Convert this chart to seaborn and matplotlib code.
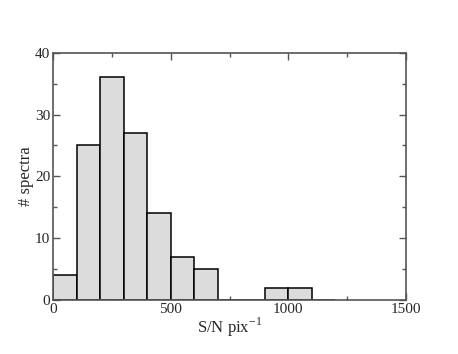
import numpy as np
import pandas as pd
import matplotlib
matplotlib.use("Agg")
import matplotlib.pyplot as plt
import seaborn as sns
from matplotlib.ticker import MultipleLocator

# Histogram data (bin width 100)
bin_edges = [0, 100, 200, 300, 400, 500, 600, 700, 800, 900, 1000, 1100, 1200]
counts = [4, 25, 36, 27, 14, 7, 5, 0, 0, 2, 2, 0]

centers = [(a + b) / 2 for a, b in zip(bin_edges[:-1], bin_edges[1:])]
df = pd.DataFrame({"sn": centers, "n": counts})

sns.set_style("ticks")
plt.rcParams['font.family'] = ['Liberation Serif', 'DejaVu Serif']

fig = plt.figure(figsize=(4.58, 3.54), dpi=100)
ax = fig.add_axes([0.1157, 0.1525, 0.7708, 0.6985])

sns.histplot(data=df, x="sn", weights="n", bins=bin_edges, ax=ax,
             color="#dcdcdc", edgecolor="black", linewidth=1.1, alpha=1.0)

ax.set_xlim(0, 1500)
ax.set_ylim(0, 40)
ax.xaxis.set_major_locator(MultipleLocator(500))
ax.xaxis.set_minor_locator(MultipleLocator(250))
ax.yaxis.set_major_locator(MultipleLocator(10))
ax.yaxis.set_minor_locator(MultipleLocator(5))
ax.tick_params(which="both", direction="in", top=True, right=True,
               color="#555555", labelsize=11, pad=2)
ax.tick_params(which="major", length=5, width=1)
ax.tick_params(which="minor", length=3, width=1)
for s in ax.spines.values():
    s.set_color("#555555")
    s.set_linewidth(1.2)

ax.set_xlabel(r"S/N pix$^{\mathregular{-1}}$", fontsize=12, labelpad=0)
ax.set_ylabel("# spectra", fontsize=12, labelpad=1)

fig.savefig("out.png", dpi=100)
